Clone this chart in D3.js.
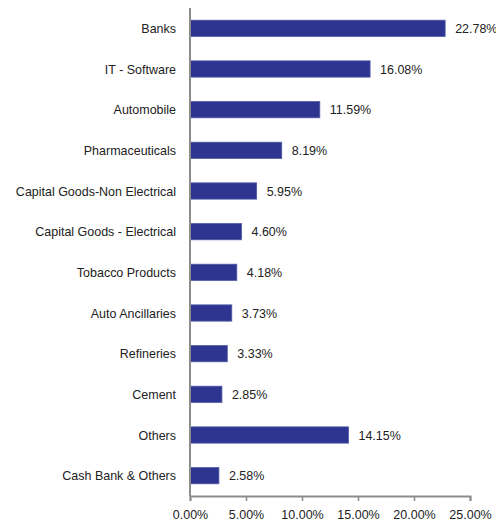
<!DOCTYPE html>
<html>
<head>
<meta charset="utf-8">
<script src="https://cdn.jsdelivr.net/npm/d3@7"></script>
<style>
  body { margin: 0; background: #fff; }
  text { font-family: "Liberation Sans", Arial, sans-serif; }
</style>
</head>
<body>
<svg id="chart" width="496" height="523"></svg>
<script>
const categories = [
  'Banks', 'IT - Software', 'Automobile', 'Pharmaceuticals',
  'Capital Goods-Non Electrical', 'Capital Goods - Electrical',
  'Tobacco Products', 'Auto Ancillaries', 'Refineries', 'Cement',
  'Others', 'Cash Bank & Others'
];
const values = [22.78, 16.08, 11.59, 8.19, 5.95, 4.60, 4.18, 3.73, 3.33, 2.85, 14.15, 2.58];
const ticks = [0, 5, 10, 15, 20, 25];

const svg = d3.select('#chart');
const margin = { top: 8, right: 26, bottom: 27, left: 190 };
const width = 496;
const height = 523;
const fontSize = 13;
const squeeze = 0.96; // the original text is a bit condensed

const x = d3.scaleLinear().domain([0, 25]).range([margin.left, width - margin.right]);
const y = d3.scaleBand().domain(categories).range([margin.top, height - margin.bottom]).paddingInner(0.6).paddingOuter(0.3);

// bars
svg.append('g')
  .selectAll('rect')
  .data(values)
  .join('rect')
  .attr('x', x(0))
  .attr('y', (d, i) => y(categories[i]))
  .attr('width', d => x(d) - x(0))
  .attr('height', y.bandwidth())
  .attr('fill', '#2d3590')
  .attr('stroke', '#5159a6')
  .attr('stroke-width', 0.8);

// value labels
svg.append('g')
  .selectAll('text')
  .data(values)
  .join('text')
  .attr('transform', (d, i) => `translate(${x(d) + 10},${y(categories[i]) + y.bandwidth() / 2}) scale(${squeeze},1)`)
  .attr('dy', '0.35em')
  .attr('font-size', fontSize)
  .attr('fill', '#222')
  .text(d => d.toFixed(2) + '%');

// category labels
svg.append('g')
  .selectAll('text')
  .data(categories)
  .join('text')
  .attr('transform', d => `translate(176,${y(d) + y.bandwidth() / 2}) scale(${squeeze},1)`)
  .attr('dy', '0.35em')
  .attr('text-anchor', 'end')
  .attr('font-size', fontSize)
  .attr('fill', '#222')
  .text(d => d);

// y axis line
svg.append('line')
  .attr('x1', x(0)).attr('x2', x(0))
  .attr('y1', margin.top).attr('y2', height - margin.bottom)
  .attr('stroke', '#8c8c8c')
  .attr('stroke-width', 2);

// x axis
const xAxis = svg.append('g')
  .attr('transform', `translate(0,${height - margin.bottom})`)
  .call(d3.axisBottom(x).tickValues(ticks).tickSize(5).tickPadding(9).tickFormat(d => d.toFixed(2) + '%'));
xAxis.select('.domain').attr('stroke', '#8c8c8c').attr('stroke-width', 2);
xAxis.selectAll('.tick line').attr('stroke', '#8c8c8c').attr('stroke-width', 1.5);
xAxis.selectAll('.tick text')
  .attr('font-size', fontSize)
  .attr('transform', `scale(${squeeze},1)`)
  .attr('font-family', '"Liberation Sans", Arial, sans-serif')
  .attr('fill', '#222');
</script>
</body>
</html>
